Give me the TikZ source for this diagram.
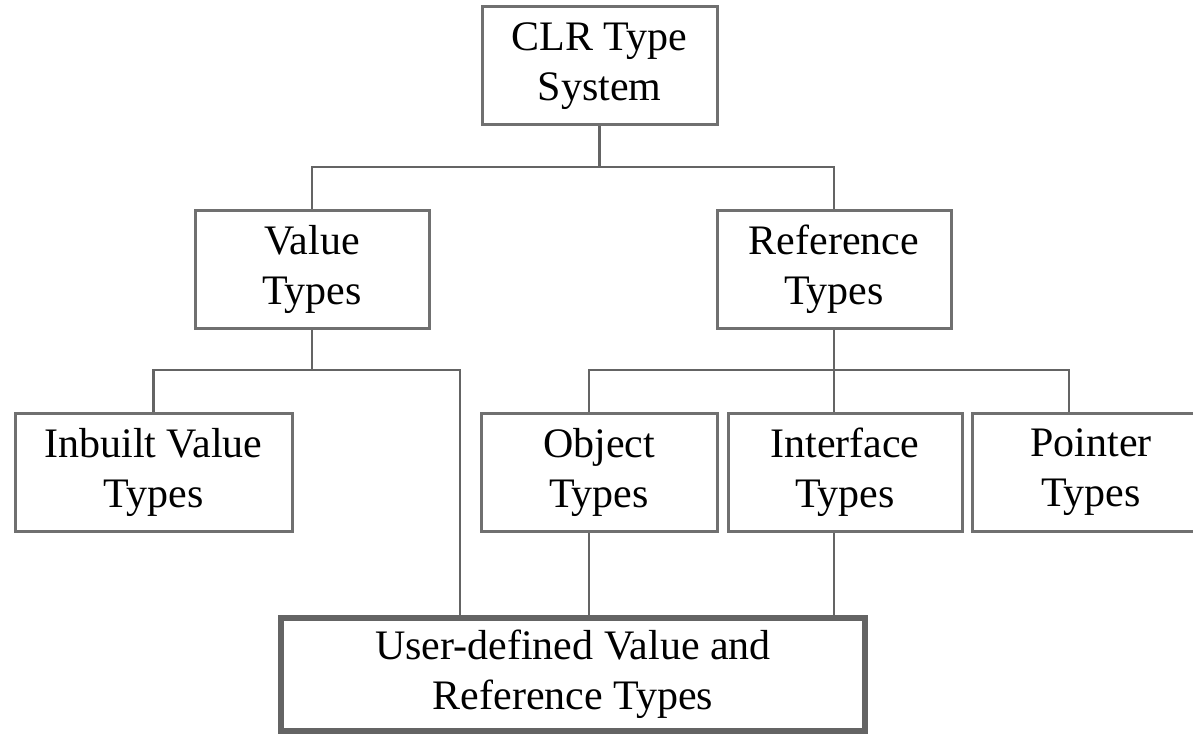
\documentclass[tikz,border=0pt]{standalone}
\usepackage{fontspec}
\setmainfont{Liberation Serif}
\definecolor{boxgray}{RGB}{112,112,112}
\definecolor{linegray}{RGB}{100,100,100}
\begin{document}
\begin{tikzpicture}[x=0.5pt,y=-0.5pt,
  box/.style={draw=boxgray, line width=1.5pt, align=center, inner sep=0pt,
    font=\fontsize{21}{25}\selectfont, text=black, minimum height=59pt},
  bigbox/.style={box, line width=2.6pt, draw=linegray, minimum height=56.5pt},
  conn/.style={draw=linegray, line width=1.1pt}]
\useasboundingbox (0,0) rectangle (1193,733);
\clip (0,0) rectangle (1193,733);
\fill[white] (0,0) rectangle (1193,733);

\node[box, minimum width=117.5pt] (clr) at (599.5,66) {CLR Type\\System};
\node[box, minimum width=117pt] (val) at (312,269) {Value\\Types};
\node[box, minimum width=117pt] (ref) at (834,269) {Reference\\Types};
\node[box, minimum width=138.5pt] (inb) at (153.5,472) {Inbuilt Value\\Types};
\node[box, minimum width=118pt] (obj) at (599,472) {Object\\Types};
\node[box, minimum width=117pt] (ifc) at (845,472) {Interface\\Types};
\node[box, minimum width=119pt] (ptr) at (1091,472) {Pointer\\Types};
\node[bigbox, minimum width=292pt] (usr) at (573,674.5) {User-defined Value and\\Reference Types};

% bus coordinates
\coordinate (b1) at (600,167);
\coordinate (v2) at (460,370);
\coordinate (l3) at (589,370);
\coordinate (r3) at (1069,370);

% level 1
\draw[conn] (clr.south) -- (clr.south |- b1);
\draw[conn] (val.north) |- (ref.north |- b1) -- (ref.north);

% value types
\draw[conn] (val.south) -- (val.south |- v2);
\draw[conn] (inb.north) |- (v2) -- (v2 |- usr.north);

% reference types
\draw[conn] (ref.south) -- (ref.south |- l3);
\draw[conn] (l3 |- obj.north) -- (l3) -- (r3) -- (r3 |- ptr.north);
\draw[conn] (ref.south |- l3) -- (ref.south |- ifc.north);

% to user-defined
\draw[conn] (l3 |- obj.south) -- (l3 |- usr.north);
\draw[conn] (ref.south |- ifc.south) -- (ref.south |- usr.north);
\end{tikzpicture}
\end{document}
